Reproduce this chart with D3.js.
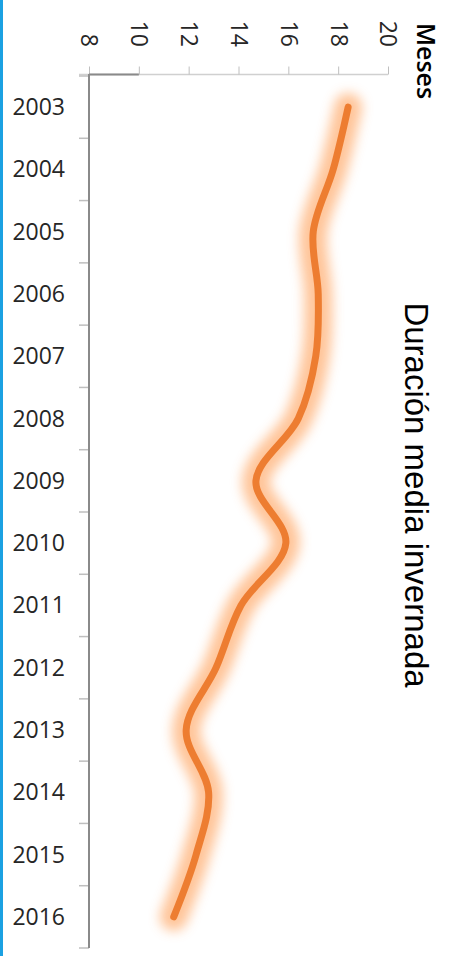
<!DOCTYPE html>
<html lang="es">
<head>
    <meta charset="UTF-8">
    <title>Duración media invernada</title>
    <script src="https://d3js.org/d3.v7.min.js"></script>
    <style>
        body { margin: 0; background: white; }
        svg { display: block; }
        .tick-label { font-family: "Open Sans", sans-serif; font-size: 23px; fill: #262626; }
    </style>
</head>
<body>
    <div id="chart"></div>

    <script>
        // Data
        const years = ["2003", "2004", "2005", "2006", "2007", "2008", "2009",
                       "2010", "2011", "2012", "2013", "2014", "2015", "2016"];
        const months = [18.4, 17.8, 17.0, 17.2, 17.1, 16.4, 14.7,
                        15.9, 14.1, 13.1, 11.9, 12.8, 12.3, 11.4];
        const valueTicks = [8, 10, 12, 14, 16, 18, 20];

        // Configuration
        const width = 454, height = 956;
        const margin = { top: 76, right: 66, bottom: 8, left: 89 };

        const svg = d3.select("#chart")
            .append("svg")
            .attr("width", width)
            .attr("height", height);

        // blue edge on the left
        svg.append("rect")
            .attr("x", 0).attr("y", 0)
            .attr("width", 3).attr("height", height)
            .attr("fill", "#1ba1e2");

        const x = d3.scaleLinear()
            .domain([8, 20])
            .range([margin.left, width - margin.right]);

        const y = d3.scaleBand()
            .domain(years)
            .range([margin.top, height - margin.bottom]);

        // value axis (top), labels turned 90deg
        const xAxis = svg.append("g")
            .attr("transform", `translate(0,${margin.top - 1.5})`)
            .call(d3.axisTop(x).tickValues(valueTicks).tickSize(8).tickSizeOuter(0));

        xAxis.select(".domain")
            .attr("d", `M${x(8) - 10},0H${x(20)}`)
            .attr("stroke", "#d0d0d0")
            .attr("stroke-width", 1.5);
        xAxis.selectAll(".tick line").attr("stroke", "#bfbfbf");
        xAxis.selectAll(".tick text")
            .attr("class", "tick-label")
            .attr("x", 0).attr("y", 0)
            .attr("dy", "0.35em")
            .attr("transform", "translate(0,-27.5) rotate(90)")
            .style("text-anchor", "end");

        // darker piece on the first interval
        svg.append("line")
            .attr("x1", x(8)).attr("x2", x(10))
            .attr("y1", margin.top - 1.5).attr("y2", margin.top - 1.5)
            .attr("stroke", "#8a8a8a")
            .attr("stroke-width", 2);

        // category axis (left)
        const boundaries = years.map(d => y(d)).concat([y.range()[1]]);
        svg.selectAll(".cat-tick")
            .data(boundaries)
            .enter().append("line")
            .attr("x1", margin.left - 10).attr("x2", margin.left)
            .attr("y1", d => d).attr("y2", d => d)
            .attr("stroke", "#bfbfbf")
            .attr("stroke-width", 1.5);

        svg.append("line")
            .attr("x1", margin.left).attr("x2", margin.left)
            .attr("y1", margin.top - 2).attr("y2", y.range()[1])
            .attr("stroke", "#8a8a8a")
            .attr("stroke-width", 2);

        svg.selectAll(".year")
            .data(years)
            .enter().append("text")
            .attr("class", "tick-label")
            .attr("x", margin.left - 24)
            .attr("y", d => y(d) + y.bandwidth() / 2)
            .attr("dy", "0.35em")
            .style("text-anchor", "end")
            .text(d => d);

        // glow + line
        const defs = svg.append("defs");
        defs.append("filter")
            .attr("id", "glow")
            .attr("x", "-50%").attr("y", "-10%")
            .attr("width", "200%").attr("height", "120%")
            .append("feGaussianBlur")
            .attr("stdDeviation", 6);

        const line = d3.line()
            .x((d, i) => x(d))
            .y((d, i) => y(years[i]) + y.bandwidth() / 2)
            .curve(d3.curveCatmullRom.alpha(0.5));

        svg.append("path")
            .datum(months)
            .attr("d", line)
            .attr("fill", "none")
            .attr("stroke", "#ffbb88")
            .attr("stroke-width", 28)
            .attr("stroke-linecap", "round")
            .attr("stroke-linejoin", "round")
            .attr("opacity", 0.85)
            .attr("filter", "url(#glow)");

        svg.append("path")
            .datum(months)
            .attr("d", line)
            .attr("fill", "none")
            .attr("stroke", "#ed7d31")
            .attr("stroke-width", 7)
            .attr("stroke-linecap", "round")
            .attr("stroke-linejoin", "round");

        // axis name
        svg.append("text")
            .attr("transform", "translate(417,23) rotate(90)")
            .style("font-family", "'Open Sans', sans-serif")
            .style("font-size", "25px")
            .style("font-weight", 600)
            .attr("fill", "#000")
            .text("Meses");

        // title
        svg.append("text")
            .attr("transform", "translate(405,495) rotate(90)")
            .style("font-family", "'Liberation Sans', Arial, sans-serif")
            .style("font-size", "33px")
            .style("text-anchor", "middle")
            .attr("fill", "#000")
            .text("Duración media invernada");
    </script>
</body>
</html>
